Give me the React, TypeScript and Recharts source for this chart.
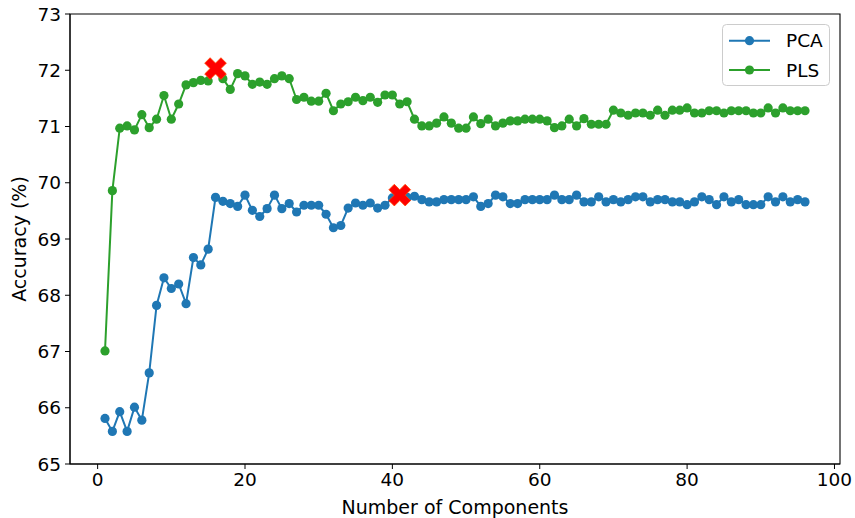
import React from 'react';
import {
  ComposedChart,
  Line,
  XAxis,
  YAxis,
  Legend,
  ReferenceArea,
} from 'recharts';

const components = Array.from({ length: 96 }, (_, i) => i + 1);

const pcaAccuracy = [
  65.81, 65.58, 65.93, 65.58, 66.01, 65.78, 66.62, 67.82, 68.31, 68.12,
  68.2, 67.85, 68.67, 68.54, 68.82, 69.74, 69.67, 69.63, 69.58, 69.78,
  69.51, 69.4, 69.54, 69.78, 69.54, 69.63, 69.48, 69.6, 69.6, 69.6,
  69.44, 69.2, 69.24, 69.55, 69.64, 69.6, 69.64, 69.55, 69.6, 69.73,
  69.78, 69.74, 69.76, 69.7, 69.66, 69.66, 69.7, 69.7, 69.7, 69.7,
  69.75, 69.58, 69.63, 69.78, 69.75, 69.63, 69.63, 69.7, 69.7, 69.7,
  69.7, 69.78, 69.7, 69.7, 69.78, 69.66, 69.66, 69.75, 69.66, 69.7,
  69.66, 69.7, 69.75, 69.75, 69.66, 69.7, 69.7, 69.66, 69.66, 69.61,
  69.66, 69.75, 69.7, 69.61, 69.75, 69.66, 69.7, 69.61, 69.61, 69.61,
  69.75, 69.66, 69.75, 69.66, 69.7, 69.66,
];

const plsAccuracy = [
  67.01, 69.86, 70.97, 71.01, 70.94, 71.21, 70.98, 71.13, 71.55, 71.13,
  71.4, 71.74, 71.78, 71.82, 71.81, 72.03, 71.85, 71.66, 71.94, 71.9,
  71.75, 71.79, 71.75, 71.85, 71.9, 71.85, 71.48, 71.52, 71.45, 71.45,
  71.59, 71.28, 71.4, 71.44, 71.52, 71.46, 71.52, 71.43, 71.56, 71.56,
  71.4, 71.44, 71.13, 71.01, 71.01, 71.06, 71.17, 71.06, 70.97, 70.97,
  71.17, 71.05, 71.13, 71.01, 71.06, 71.1, 71.1, 71.13, 71.13, 71.13,
  71.1, 70.98, 71.01, 71.13, 71.01, 71.14, 71.04, 71.04, 71.04, 71.29,
  71.24, 71.2, 71.24, 71.24, 71.2, 71.29, 71.2, 71.29, 71.29, 71.33,
  71.24, 71.24, 71.28, 71.28, 71.24, 71.28, 71.28, 71.28, 71.24, 71.24,
  71.33, 71.24, 71.33, 71.28, 71.28, 71.28,
];

// highlighted "best" points (red X markers)
const bestComponents = [16, 41];
const bestAccuracy = [72.03, 69.78];

const xTicks = [0, 20, 40, 60, 80, 100];
const yTicks = [65, 66, 67, 68, 69, 70, 71, 72, 73];

const rows = components.map((n, i) => ({ n, pca: pcaAccuracy[i], pls: plsAccuracy[i] }));
const bestRows = bestComponents.map((n, i) => ({ n, best: bestAccuracy[i] }));

const FONT = '"DejaVu Sans", Verdana, sans-serif';
const FS = 18.5;
const LABEL_FS = 19;
const BLUE = '#1f77b4';
const GREEN = '#2ca02c';

// matplotlib-style filled "X" marker
function XMarker(props: any) {
  const { cx, cy } = props;
  if (cx == null || cy == null) return null;
  const s = 23 / 6;
  const base = [
    [-1, -3], [1, -3], [1, -1], [3, -1], [3, 1], [1, 1],
    [1, 3], [-1, 3], [-1, 1], [-3, 1], [-3, -1], [-1, -1],
  ];
  const c = Math.SQRT1_2;
  const pts = base
    .map(([x, y]) => `${cx + (x - y) * c * s},${cy + (x + y) * c * s}`)
    .join(' ');
  return <polygon key={`x-${cx}`} points={pts} fill="#ff0000" stroke="#ff4400" strokeWidth={0.8} />;
}

function LegendBox(props: any) {
  const items = (props.payload || []).filter((p: any) => p.type !== 'none');
  return (
    <svg width={108} height={62} style={{ display: 'block' }}>
      <rect x={0.5} y={0.5} width={107} height={61} rx={4} fill="rgba(255,255,255,0.8)" stroke="#cccccc" />
      {items.map((p: any, i: number) => {
        const cy = 16.7 + i * 29.3;
        return (
          <g key={p.value}>
            <line x1={7} x2={48} y1={cy} y2={cy} stroke={p.color} strokeWidth={2} />
            <circle cx={27.5} cy={cy} r={4.6} fill={p.color} />
            <text x={64} y={cy} dy="0.36em" fontFamily={FONT} fontSize={FS} fill="#000">
              {p.value}
            </text>
          </g>
        );
      })}
    </svg>
  );
}

export default function App() {
  const tickStyle = { fontFamily: FONT, fontSize: FS, fill: '#000' };
  return (
    <div style={{ position: 'absolute', left: 0, top: 0, width: 855, height: 518, background: '#fff' }}>
      <ComposedChart width={855} height={518} data={rows} margin={{ top: 14, right: 15, bottom: 0, left: 0 }}>
        <XAxis
          type="number"
          dataKey="n"
          domain={[-3.75, 100.75]}
          ticks={xTicks}
          allowDataOverflow
          height={54}
          tickSize={5}
          tickMargin={4}
          tick={tickStyle}
          tickLine={{ stroke: '#000' }}
          axisLine={{ stroke: '#000' }}
          label={(p: any) => {
            const vb = p.viewBox;
            return (
              <text x={vb.x + vb.width / 2} y={514} textAnchor="middle" fontFamily={FONT} fontSize={LABEL_FS} fill="#000">
                Number of Components
              </text>
            );
          }}
        />
        <YAxis
          type="number"
          domain={[65, 73]}
          ticks={yTicks}
          width={70}
          tickSize={5}
          tickMargin={4}
          tick={tickStyle}
          tickLine={{ stroke: '#000' }}
          axisLine={{ stroke: '#000' }}
          label={(p: any) => {
            const vb = p.viewBox;
            const cy = vb.y + vb.height / 2;
            return (
              <text
                x={25.5}
                y={cy}
                transform={`rotate(-90, 25.5, ${cy})`}
                textAnchor="middle"
                fontFamily={FONT}
                fontSize={LABEL_FS}
                fill="#000"
              >
                Accuracy (%)
              </text>
            );
          }}
        />
        <ReferenceArea x1={-3.75} x2={100.75} y1={65} y2={73} fill="none" stroke="#000" strokeWidth={1.1} />
        <Line
          dataKey="pca"
          name="PCA"
          stroke={BLUE}
          strokeWidth={2}
          dot={{ r: 4.6, fill: BLUE, stroke: 'none' }}
          activeDot={false}
          isAnimationActive={false}
        />
        <Line
          dataKey="pls"
          name="PLS"
          stroke={GREEN}
          strokeWidth={2}
          dot={{ r: 4.6, fill: GREEN, stroke: 'none' }}
          activeDot={false}
          isAnimationActive={false}
        />
        <Line
          data={bestRows}
          dataKey="best"
          stroke="none"
          dot={XMarker}
          activeDot={false}
          legendType="none"
          isAnimationActive={false}
        />
        <Legend
          layout="vertical"
          align="center"
          verticalAlign="middle"
          content={LegendBox}
          wrapperStyle={{ left: 722, top: 24, width: 108, height: 62 }}
        />
      </ComposedChart>
    </div>
  );
}
